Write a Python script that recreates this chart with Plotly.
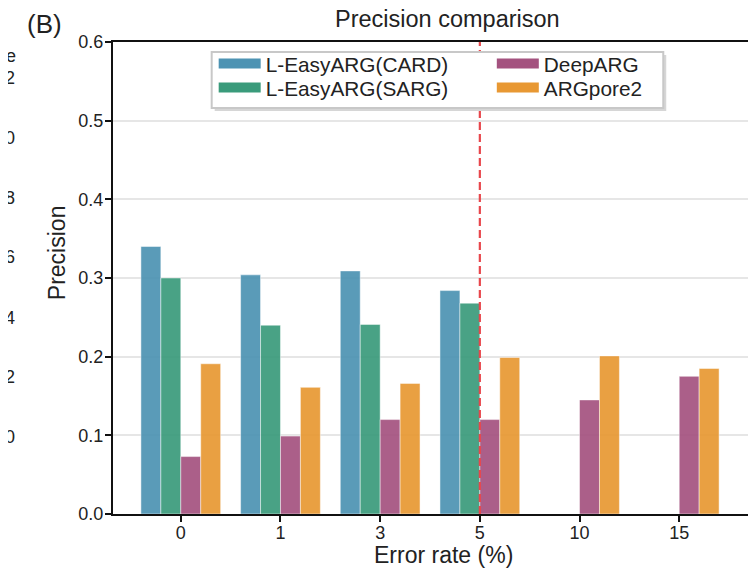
import plotly.graph_objects as go

# ---- data ----
error_rates = ["0", "1", "3", "5", "10", "15"]
card = [0.340, 0.304, 0.309, 0.284, None, None]
sarg = [0.300, 0.240, 0.241, 0.268, None, None]
deeparg = [0.073, 0.099, 0.120, 0.120, 0.145, 0.175]
argpore2 = [0.191, 0.161, 0.166, 0.199, 0.201, 0.185]
series_names = ["L-EasyARG(CARD)", "L-EasyARG(SARG)", "DeepARG", "ARGpore2"]
series_values = [card, sarg, deeparg, argpore2]
series_colors = ["#4d93b3", "#3a9b7b", "#a4527f", "#e89833"]
cutoff_rate = "5"
y_ticks = [0.0, 0.1, 0.2, 0.3, 0.4, 0.5, 0.6]
side_fragments = ["42", "40", "38", "36", "34", "32", "30"]

FONT = "Arial, Liberation Sans, Helvetica, sans-serif"
BODY = 8                      # default page body margin
W, H = 756 - BODY, 577 - BODY
L, R, T, B = 113 - BODY, 6, 42 - BODY, 63
PW, PH = W - L - R, H - T - B


# screen pixel -> paper coordinates
def px(x):
    return (x - BODY - L) / PW


def py(y):
    return (H - B - (y - BODY)) / PH


fig = go.Figure()
for name, vals, col in zip(series_names, series_values, series_colors):
    fig.add_trace(go.Bar(
        x=error_rates, y=vals, name=name, showlegend=False,
        marker=dict(color=col, opacity=0.92,
                    line=dict(color="rgba(255,255,255,0.6)", width=0.8)),
    ))

# cutoff dashed line
fig.add_trace(go.Scatter(
    x=[cutoff_rate, cutoff_rate], y=[y_ticks[0], y_ticks[-1]], mode="lines",
    line=dict(color="#e8474c", width=2.2, dash="8px,4px"), showlegend=False,
    hoverinfo="skip", cliponaxis=False,
))

# legend: 2 columns x 2 rows, one legend per entry
leg_pos = {  # (left x, row centre y) in screen pixels
    "L-EasyARG(CARD)": (214, 64),
    "L-EasyARG(SARG)": (214, 88),
    "DeepARG": (493, 64),
    "ARGpore2": (493, 88),
}
legend_layout = {}
for i, (name, col) in enumerate(zip(series_names, series_colors)):
    key = "legend" if i == 0 else f"legend{i + 1}"
    fig.add_trace(go.Scatter(
        x=[None], y=[None], mode="lines", name=name, legend=key,
        line=dict(color=col, width=12), showlegend=True,
    ))
    lx, ly = leg_pos[name]
    legend_layout[key] = dict(
        x=px(lx), y=py(ly), xanchor="left", yanchor="middle",
        bgcolor="rgba(0,0,0,0)", borderwidth=0, itemwidth=42,
        font=dict(family=FONT, size=20.8, color="#222"),
    )

fig.update_layout(
    width=W, height=H,
    margin=dict(l=L, r=R, t=T, b=B),
    paper_bgcolor="white", plot_bgcolor="white",
    font=dict(family=FONT, color="#222", size=17),
    barmode="group", bargap=0.2, bargroupgap=0,
    showlegend=True,
    **legend_layout,
)

# legend frame (shadow + box)
fig.add_shape(type="rect", xref="paper", yref="paper", layer="above",
              x0=px(215), x1=px(668), y0=py(111), y1=py(55),
              fillcolor="#d6d6d6", line=dict(width=0))
fig.add_shape(type="rect", xref="paper", yref="paper", layer="above",
              x0=px(212), x1=px(665), y0=py(108), y1=py(52),
              fillcolor="white", line=dict(color="#c8c8c8", width=2))

fig.update_xaxes(
    type="category", categoryorder="array", categoryarray=error_rates,
    range=[-0.68, 5.69],
    showline=True, linecolor="#111", linewidth=2, mirror=True,
    ticks="outside", ticklen=6, tickwidth=2, tickcolor="#111",
    ticklabelstandoff=-5,
    showgrid=False, tickfont=dict(size=18, color="#222"),
)
fig.update_yaxes(
    range=[0, 0.6], tickvals=y_ticks, ticktext=[f"{v:.1f}" for v in y_ticks],
    showline=True, linecolor="#111", linewidth=2, mirror=True,
    ticks="outside", ticklen=6, tickwidth=2, tickcolor="#111",
    ticklabelstandoff=-2,
    showgrid=True, gridcolor="#e6e6e6", gridwidth=2, zeroline=False,
    tickfont=dict(size=18, color="#222"),
)

ann = [
    dict(text="Precision comparison", x=px(449), y=py(19), size=23.5),
    dict(text="Error rate (%)", x=px(445), y=py(555), size=23),
    dict(text="(B)", x=px(44), y=py(24), size=26),
]
for a in ann:
    fig.add_annotation(text=a["text"], x=a["x"], y=a["y"], xref="paper", yref="paper",
                       xanchor="center", yanchor="middle", showarrow=False,
                       font=dict(family=FONT, size=a["size"], color="#222"))
fig.add_annotation(text="Precision", x=px(57), y=py(253), xref="paper", yref="paper",
                   textangle=-90, xanchor="center", yanchor="middle", showarrow=False,
                   font=dict(family=FONT, size=23, color="#222"))

# fragments of the neighbouring panel, clipped at the left edge
fig.add_annotation(text="e", x=px(18), y=py(56), xref="paper", yref="paper",
                   xanchor="right", yanchor="middle", showarrow=False,
                   font=dict(family=FONT, size=18, color="#222"))
frag_y = [78, 138, 198, 257, 318, 377, 437]
for t, yy in zip(side_fragments, frag_y):
    fig.add_annotation(text=t, x=px(17), y=py(yy), xref="paper", yref="paper",
                       xanchor="right", yanchor="middle", showarrow=False,
                       font=dict(family=FONT, size=18, color="#222"))

fig.write_html("out.html")
